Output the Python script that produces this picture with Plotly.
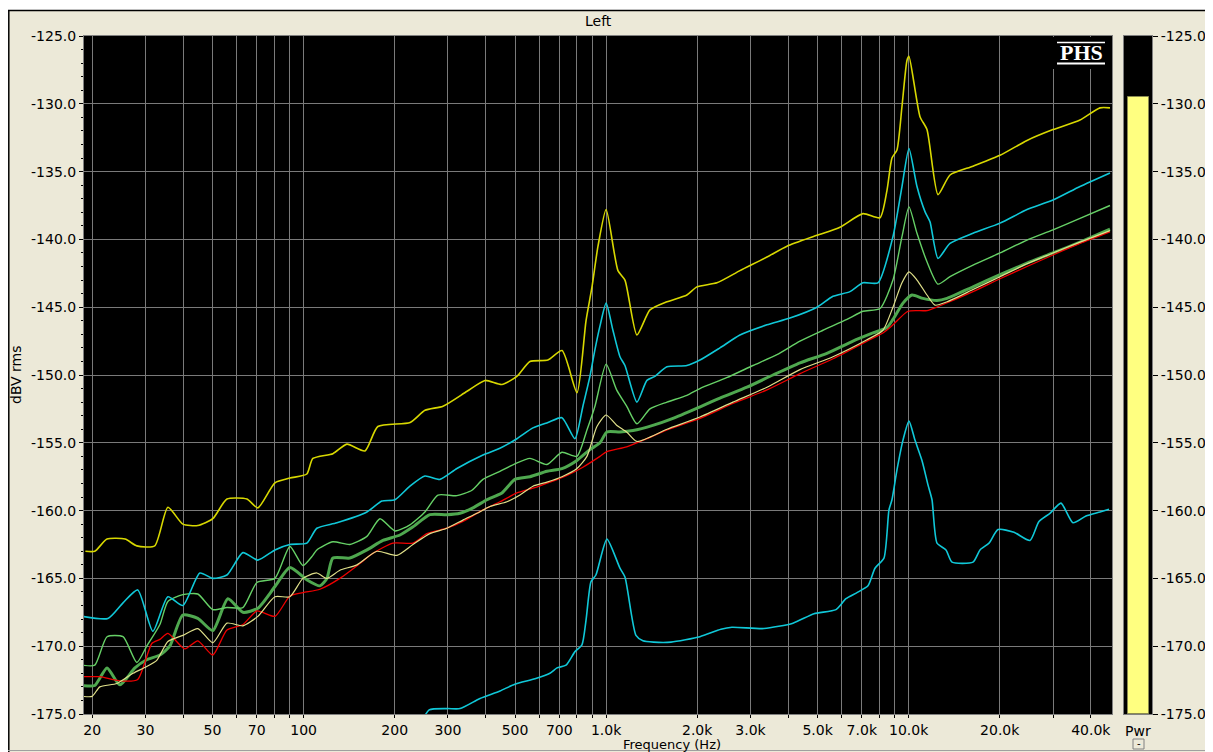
import math
import plotly.graph_objects as go

# ---------------- data ----------------
# top yellow trace
y1_freq = [19, 20.4, 22.4, 25.7, 28.1, 32.2, 35.6, 39.9, 44.7, 50.1, 55.8, 65, 70.6, 80.4, 90.1,
           102.5, 107.3, 125, 139, 159.5, 176, 225, 252, 289, 347, 398, 452, 507, 560, 642, 715,
           801, 858, 898, 940, 1000, 1094, 1154, 1264, 1396, 1589, 1849, 1996, 2324, 2769, 3401,
           3960, 4977, 5929, 7062, 8038, 8476, 8806, 9148, 9504, 9872, 10023, 10900, 11496, 12503,
           13699, 16318, 20043, 24614, 29990, 36840, 42900, 46290]
y1_db = [-163.0, -163.0, -162.1, -162.1, -162.6, -162.6, -159.75, -161.0, -161.1, -160.6, -159.15,
         -159.15, -159.8, -157.95, -157.6, -157.3, -156.15, -155.8, -155.1, -155.6, -153.8, -153.5,
         -152.6, -152.3, -151.2, -150.4, -150.7, -150.1, -149.0, -148.9, -148.2, -151.3, -146.0,
         -143.5, -140.5, -137.8, -142.3, -143.0, -147.05, -145.2, -144.6, -144.1, -143.5, -143.2,
         -142.3, -141.3, -140.5, -139.7, -139.1, -138.1, -138.4, -136.4, -134.0, -133.4, -130.2,
         -126.8, -126.5, -130.95, -131.9, -136.7, -135.25, -134.6, -133.8, -132.7, -131.9, -131.2,
         -130.3, -130.3]

# upper cyan trace
c1_freq = [18.6, 22.55, 25.3, 28.3, 31.75, 35.6, 39.9, 45.4, 50.1, 55.8, 63, 70.6, 80.4, 90.1,
           102.5, 110.6, 128.9, 161.9, 181.5, 200.4, 224.6, 251.8, 282.2, 321.2, 391.5, 445.6,
           507.1, 572.8, 642.3, 714.5, 788.6, 838, 884, 918, 954, 1000, 1053, 1111, 1154, 1264,
           1364, 1450, 1589, 1849, 2042, 2378, 2769, 3401, 4052, 4977, 5622, 6397, 7062, 7917,
           8873, 9504, 10023, 10654, 11322, 11763, 12503, 13699, 16318, 20043, 24614, 29990,
           36840, 46290]
c1_db = [-167.8, -167.95, -166.8, -165.85, -168.9, -166.35, -167.0, -164.6, -165.0, -164.75,
         -163.1, -163.65, -162.9, -162.5, -162.4, -161.3, -160.9, -160.1, -159.3, -159.2, -158.2,
         -157.45, -157.7, -156.9, -155.9, -155.4, -154.7, -153.9, -153.5, -153.15, -154.7, -152.3,
         -150.1, -148.15, -146.4, -144.7, -146.7, -148.65, -149.3, -152.0, -150.4, -150.1, -149.4,
         -149.3, -148.9, -148.0, -147.05, -146.3, -145.8, -145.0, -144.2, -143.85, -143.2, -143.2,
         -139.8, -136.1, -133.3, -136.1, -137.95, -138.7, -141.4, -140.3, -139.55, -138.8, -137.8,
         -137.1, -136.1, -135.1]

# light green (thin) trace
g1_freq = [18.6, 20.4, 22.4, 25.3, 28.1, 30.3, 33.5, 35.6, 39.9, 44.7, 50.1, 55.8, 63, 70.1,
           80.4, 90.1, 99.5, 107.3, 110.6, 125, 142.2, 161.9, 178.8, 200.4, 224.6, 251.8, 278,
           321.2, 360.1, 391.5, 445.6, 499.4, 559.9, 637.4, 714.5, 800.7, 864.1, 918.4, 1000,
           1083, 1169, 1264, 1396, 1589, 1849, 2042, 2502, 3057, 3670, 4373, 5208, 6252, 7062,
           8038, 8873, 9504, 10023, 10654, 11496, 12503, 13699, 16318, 20043, 24614, 29990,
           36840, 46290]
g1_db = [-171.4, -171.4, -169.3, -169.3, -171.2, -170.0, -168.4, -166.7, -166.2, -166.15,
         -167.3, -167.15, -167.15, -165.3, -165.0, -162.65, -164.05, -163.3, -162.9, -162.3,
         -162.5, -161.9, -160.6, -161.5, -161.05, -160.1, -158.85, -158.9, -158.5, -157.7,
         -157.1, -156.55, -156.15, -156.6, -155.7, -156.0, -154.05, -152.3, -149.2, -151.1,
         -152.3, -153.6, -152.5, -152.0, -151.5, -151.0, -150.2, -149.3, -148.5, -147.5, -146.7,
         -145.9, -145.3, -145.1, -143.0, -139.8, -137.6, -139.55, -141.65, -143.3, -142.75,
         -141.9, -141.0, -140.05, -139.3, -138.45, -137.5]

# thick green trace
g2_freq = [18.6, 20.4, 22.4, 24.7, 27.7, 30.3, 33.5, 36.1, 39.9, 44.7, 50.1, 56.2, 63, 70.6,
           80.4, 90.1, 102.5, 113.2, 119.4, 125, 142.2, 161.9, 182.9, 208.2, 229.8, 261.5, 297.6,
           328.6, 362.9, 403.6, 452.4, 499.4, 559.9, 637.4, 714.5, 800.7, 884, 954, 1006, 1111,
           1227, 1435, 1663, 1996, 2378, 2921, 3560, 4373, 5369, 6545, 7621, 8476, 8873, 9577,
           10254, 11151, 12409, 13390, 16318, 20043, 24614, 29990, 36840, 46290]
g2_db = [-172.9, -172.9, -171.6, -172.85, -171.6, -171.0, -170.65, -170.0, -167.7, -167.95,
         -168.85, -166.5, -167.5, -167.2, -165.6, -164.2, -165.1, -165.55, -165.0, -163.5,
         -163.5, -162.9, -162.2, -161.8, -161.2, -160.3, -160.3, -160.2, -159.8, -159.2, -158.7,
         -157.7, -157.5, -157.1, -156.9, -156.3, -155.5, -155.0, -154.2, -154.2, -154.1, -153.7,
         -153.2, -152.45, -151.7, -150.9, -150.0, -149.1, -148.4, -147.5, -146.9, -146.5, -145.9,
         -144.7, -144.1, -144.35, -144.5, -144.35, -143.5, -142.6, -141.75, -141.0, -140.2,
         -139.25]

# pale yellow (thin) trace
y2_freq = [18.6, 20, 21.2, 24.15, 27.3, 30.3, 32.7, 35.6, 39.9, 44.7, 50.1, 55.8, 63, 70.6,
           80.4, 90.1, 99.5, 110.6, 119.4, 131.8, 150.1, 174.7, 203.5, 229.8, 261.5, 297.6,
           336.2, 374.1, 413, 470, 519, 572.8, 637.4, 714.5, 800.7, 864.1, 932.4, 1000, 1083,
           1169, 1264, 1589, 2042, 2625, 3401, 4373, 5622, 7280, 8222, 8873, 9504, 10023, 10654,
           11496, 12220, 13390, 16318, 20043, 24614, 29990, 36840, 46290]
y2_db = [-173.7, -173.7, -173.0, -172.75, -172.0, -171.5, -171.05, -169.65, -169.2, -168.7,
         -169.75, -168.3, -168.5, -167.8, -166.35, -166.35, -165.0, -164.6, -165.0, -164.4,
         -164.0, -163.0, -163.3, -162.5, -161.7, -161.3, -160.7, -160.2, -159.7, -159.35,
         -158.85, -158.2, -157.9, -157.5, -156.9, -156.0, -153.8, -152.95, -153.7, -154.2,
         -154.9, -154.0, -153.1, -152.0, -150.9, -149.6, -148.65, -147.4, -146.7, -145.0,
         -143.2, -142.4, -143.0, -144.1, -144.85, -144.6, -143.7, -142.75, -141.8, -141.0,
         -140.2, -139.35]

# red trace
r_freq = [18.6, 21.2, 24.7, 28.3, 31.5, 33.5, 35.6, 40.5, 44.7, 50.1, 55.8, 63, 70.1, 80.4,
          90.1, 99.5, 113.2, 131.8, 153.5, 169.5, 197.3, 229.8, 255.6, 297.6, 336.2, 391.5,
          445.6, 507.1, 572.8, 652.2, 742.2, 838, 954, 1006, 1169, 1364, 1589, 2042, 2625,
          3401, 4373, 5622, 7280, 8222, 8873, 9950, 11496, 12503, 16318, 20043, 24614, 29990,
          36840, 46290]
r_db = [-172.25, -172.25, -172.55, -172.45, -169.8, -169.5, -169.05, -170.2, -169.6, -170.65,
        -168.8, -168.4, -167.4, -167.8, -166.3, -166.05, -165.8, -165.0, -163.9, -163.15, -162.4,
        -162.4, -161.7, -161.3, -160.8, -159.95, -159.35, -158.7, -158.35, -157.9, -157.4,
        -156.8, -156.0, -155.65, -155.3, -154.7, -154.05, -153.2, -152.1, -151.1, -149.9,
        -148.8, -147.5, -146.9, -146.3, -145.3, -145.25, -144.95, -143.85, -142.9, -142.0,
        -141.15, -140.3, -139.45]

# lower cyan trace
c2_freq = [243, 260, 298, 329, 383, 446, 499, 582, 652, 688, 737, 789, 832, 858, 891, 925, 1006,
           1111, 1154, 1255, 1323, 1435, 1638, 2042, 2396, 2605, 3325, 4145, 4864, 5751, 6205,
           6747, 7337, 7738, 8285, 8607, 8806, 9148, 9577, 10023, 10491, 11066, 11584, 11944,
           12409, 13286, 13909, 16318, 17211, 18434, 19741, 22292, 25177, 26960, 29310, 31870,
           34920, 38560, 42900, 45940]
c2_db = [-175.8, -174.7, -174.6, -174.6, -173.85, -173.3, -172.8, -172.4, -172.0, -171.6,
         -171.4, -170.4, -169.9, -168.1, -165.25, -164.75, -162.1, -164.25, -164.9, -169.2,
         -169.6, -169.7, -169.7, -169.3, -168.75, -168.6, -168.7, -168.3, -167.6, -167.3,
         -166.5, -166.05, -165.55, -164.25, -163.5, -159.95, -159.2, -157.0, -154.8, -153.4,
         -154.8, -156.3, -158.1, -159.2, -162.4, -162.9, -163.8, -163.8, -162.9, -162.4,
         -161.4, -161.6, -162.2, -160.8, -160.2, -159.45, -160.9, -160.4, -160.1, -159.9]

# axis ticks
grid_freqs = [20, 30, 40, 50, 60, 70, 80, 90, 100, 200, 300, 400, 500, 600, 700, 800, 900,
              1000, 2000, 3000, 4000, 5000, 6000, 7000, 8000, 9000, 10000, 20000, 30000, 40000]
freq_labels = {20: "20", 30: "30", 50: "50", 70: "70", 100: "100", 200: "200", 300: "300",
               500: "500", 700: "700", 1000: "1.0k", 2000: "2.0k", 3000: "3.0k", 5000: "5.0k",
               7000: "7.0k", 10000: "10.0k", 20000: "20.0k", 40000: "40.0k"}
db_ticks = [-175, -170, -165, -160, -155, -150, -145, -140, -135, -130, -125]
meter_level = -129.5

# ---------------- layout helpers (page pixel coordinates) ----------------
PAGE_W, PAGE_H = 1213, 752
OFF = 8                      # default body margin of the html page
W, H = PAGE_W - OFF, PAGE_H - OFF
PLOT_L, PLOT_R, PLOT_T, PLOT_B = 84, 1112, 36, 714
ML = PLOT_L - OFF
MT = PLOT_T - OFF
MB = PAGE_H - PLOT_B
MR = 0
PW = W - ML - MR
PH = H - MT - MB


def px(xp):
    return (xp - PLOT_L) / PW


def py(yp):
    return (PLOT_B - yp) / PH


FONT = "DejaVu Sans"
fig = go.Figure()

traces = [
    (g2_freq, g2_db, "#4FA84F", 3.0),
    (r_freq, r_db, "#F00000", 1.3),
    (y2_freq, y2_db, "#E0E08A", 1.2),
    (g1_freq, g1_db, "#66D066", 1.4),
    (c1_freq, c1_db, "#10C8D8", 1.6),
    (y1_freq, y1_db, "#D8D800", 1.6),
    (c2_freq, c2_db, "#10C8D8", 1.6),
]
for fx, fy, col, w in traces:
    fig.add_trace(go.Scatter(x=fx, y=fy, mode="lines",
                             line=dict(color=col, width=w, shape="spline", smoothing=0.6),
                             xaxis="x", yaxis="y", showlegend=False, hoverinfo="skip"))

# meter bar
fig.add_trace(go.Bar(x=[0], y=[meter_level - db_ticks[0]], base=[db_ticks[0]], width=[0.75],
                     marker=dict(color="#FFFF80", line=dict(color="#8A8A50", width=1)),
                     xaxis="x2", yaxis="y2", showlegend=False, hoverinfo="skip"))

fig.update_layout(
    width=W, height=H,
    margin=dict(l=ML, r=MR, t=MT, b=MB),
    paper_bgcolor="#ECE9D8",
    plot_bgcolor="#000000",
    font=dict(family=FONT, size=14, color="#000000"),
    xaxis=dict(type="log", domain=[0, px(PLOT_R)],
               range=[math.log10(18.8), math.log10(47000)],
               tickmode="array", tickvals=grid_freqs,
               ticktext=[freq_labels.get(f, "") for f in grid_freqs],
               showgrid=True, gridcolor="#7A7A7A", gridwidth=1,
               ticks="outside", ticklen=3, tickcolor="#000000",
               showline=True, linecolor="#808080", mirror=True,
               tickfont=dict(size=14), automargin=False, fixedrange=True),
    yaxis=dict(range=[-175, -125], tickmode="array", tickvals=db_ticks,
               ticktext=[f"{v:.1f}" for v in db_ticks],
               showgrid=True, gridcolor="#7A7A7A", gridwidth=1,
               ticks="outside", ticklen=4, tickcolor="#000000",
               minor=dict(dtick=1, ticks="outside", ticklen=2, tickcolor="#000000", showgrid=False),
               showline=True, linecolor="#808080", mirror=True, zeroline=False,
               tickfont=dict(size=14), automargin=False, fixedrange=True),
    xaxis2=dict(domain=[px(1124), px(1152)], range=[-0.5, 0.5], anchor="y2",
                showticklabels=False, showgrid=False, zeroline=False, ticks="",
                showline=True, linecolor="#808080", mirror=True, fixedrange=True),
    yaxis2=dict(anchor="x2", side="right", range=[-175, -125], tickmode="array",
                tickvals=db_ticks, ticktext=[f"{v:.1f}" for v in db_ticks],
                showgrid=False, zeroline=False, ticks="outside", ticklen=5,
                tickcolor="#000000", showline=True, linecolor="#808080", mirror=True,
                tickfont=dict(size=14), automargin=False, fixedrange=True),
    bargap=0,
)

shapes = [
    # white strip and window frame at the top-left
    dict(type="rect", xref="paper", yref="paper", x0=px(OFF), x1=px(PAGE_W), y0=py(10),
         y1=py(OFF), fillcolor="#FFFFFF", line=dict(width=0), layer="below"),
    dict(type="line", xref="paper", yref="paper", x0=px(OFF), x1=px(PAGE_W), y0=py(10.5),
         y1=py(10.5), line=dict(color="#000000", width=1.5)),
    dict(type="line", xref="paper", yref="paper", x0=px(OFF + 0.8), x1=px(OFF + 0.8),
         y0=py(PAGE_H), y1=py(10), line=dict(color="#000000", width=1.5)),
    dict(type="line", xref="paper", yref="paper", x0=px(OFF), x1=px(PAGE_W), y0=py(750.5),
         y1=py(750.5), line=dict(color="#A0A0A0", width=1)),
    # black box behind logo
    dict(type="rect", xref="paper", yref="paper", x0=px(1044), x1=px(1111), y0=py(69),
         y1=py(37), fillcolor="#000000", line=dict(width=0), layer="above"),
    dict(type="line", xref="paper", yref="paper", x0=px(1057), x1=px(1105), y0=py(42.5),
         y1=py(42.5), line=dict(color="#FFFFFF", width=1.5), layer="above"),
    dict(type="line", xref="paper", yref="paper", x0=px(1057), x1=px(1105), y0=py(63.5),
         y1=py(63.5), line=dict(color="#FFFFFF", width=2), layer="above"),
    # small button under meter
    dict(type="rect", xref="paper", yref="paper", x0=px(1133), x1=px(1144), y0=py(749),
         y1=py(739), fillcolor="#ECE9D8", line=dict(color="#808080", width=1)),
]
fig.update_layout(shapes=shapes)

annotations = [
    dict(text="Left", x=px(598), y=py(21), xref="paper", yref="paper", showarrow=False,
         font=dict(size=14), xanchor="center", yanchor="middle"),
    dict(text="dBV rms", x=px(16), y=py(375), xref="paper", yref="paper", showarrow=False,
         textangle=-90, font=dict(size=14), xanchor="center", yanchor="middle"),
    dict(text="Frequency (Hz)", x=px(672), y=py(744.5), xref="paper", yref="paper",
         showarrow=False, font=dict(size=13), xanchor="center", yanchor="middle"),
    dict(text="<b>PHS</b>", x=px(1081), y=py(53), xref="paper", yref="paper", showarrow=False,
         font=dict(family="Liberation Serif", size=22, color="#FFFFFF"),
         xanchor="center", yanchor="middle"),
    dict(text="Pwr", x=px(1138), y=py(731), xref="paper", yref="paper", showarrow=False,
         font=dict(size=14), xanchor="center", yanchor="middle"),
    dict(text="-", x=px(1138.5), y=py(743.5), xref="paper", yref="paper", showarrow=False,
         font=dict(size=10), xanchor="center", yanchor="middle"),
]
fig.update_layout(annotations=annotations)

fig.write_html("out.html")
